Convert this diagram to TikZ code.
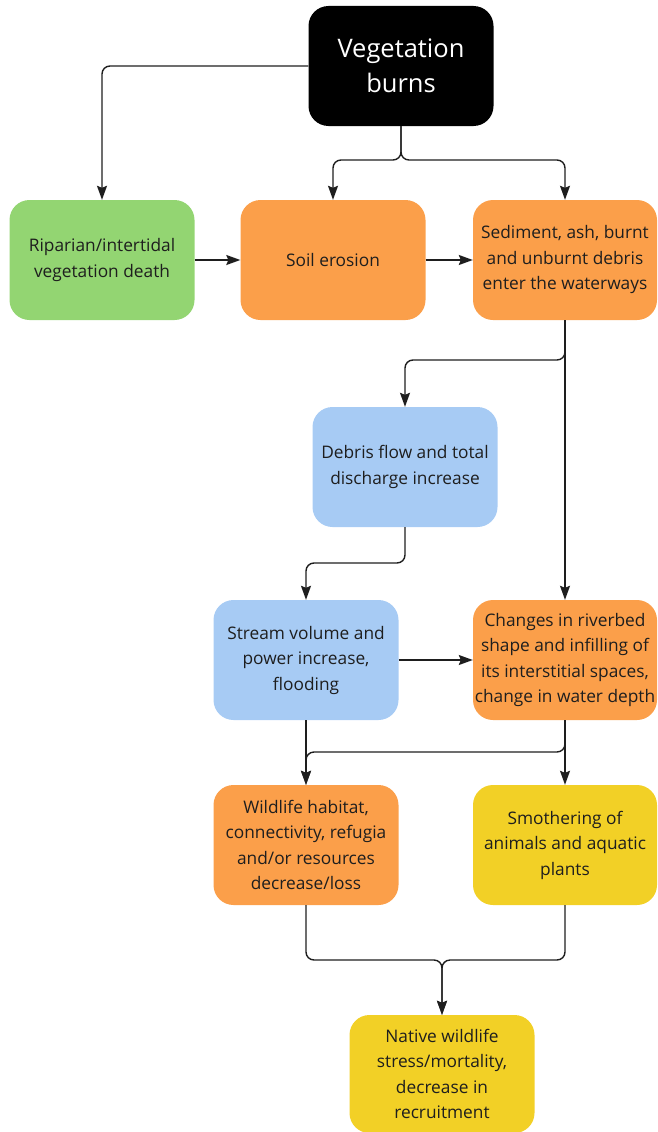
\documentclass[tikz,border=0pt]{standalone}
\usepackage{fontspec}
\setmainfont{Open Sans}
\usetikzlibrary{arrows.meta}
\definecolor{cgreen}{HTML}{93D572}
\definecolor{corange}{HTML}{FB9F4A}
\definecolor{cblue}{HTML}{A7CBF4}
\definecolor{cyellow}{HTML}{F2D026}
\definecolor{ctext}{HTML}{1E1E1E}
\tikzset{
  box/.style={rounded corners=20pt, minimum width=185pt, minimum height=120pt, align=center, font=\fontsize{17.3}{25.5}\selectfont, text=ctext, inner sep=0pt},
  arr/.style={line width=1.4pt, draw=ctext, rounded corners=8pt, -{Stealth[length=14pt,width=10pt,inset=2pt]}}
}
\begin{document}
\begin{tikzpicture}[x=1pt,y=-1pt]
\useasboundingbox (0,0) rectangle (657,1132);
\node[box, fill=black, text=white, font=\fontsize{25.5}{35}\selectfont] (veg) at (401,66) {Vegetation\\burns};
\node[box, fill=cgreen] (rip) at (102,260) {Riparian/intertidal\\vegetation death};
\node[box, fill=corange] (soil) at (333,260) {Soil erosion};
\node[box, fill=corange, minimum width=184pt] (sed) at (565,260) {Sediment, ash, burnt\\and unburnt debris\\enter the waterways};
\node[box, fill=cblue] (deb) at (405,467) {Debris flow and total\\discharge increase};
\node[box, fill=cblue] (str) at (306,660) {Stream volume and\\power increase,\\flooding};
\node[box, fill=corange, minimum width=184pt] (chg) at (565,660) {Changes in riverbed\\shape and infilling of\\its interstitial spaces,\\change in water depth};
\node[box, fill=corange] (wild) at (306,845) {Wildlife habitat,\\connectivity, refugia\\and/or resources\\decrease/loss};
\node[box, fill=cyellow, minimum width=184pt] (smo) at (565,845) {Smothering of\\animals and aquatic\\plants};
\node[box, fill=cyellow, minimum height=118pt] (nat) at (442,1074) {Native wildlife\\stress/mortality,\\decrease in\\recruitment};
\coordinate (j1) at (401,160);
\coordinate (j2) at (565,360);
\coordinate (j3) at (405,563);
\coordinate (j4) at (565,752);
\coordinate (j5l) at (306,960);
\coordinate (j5r) at (565,960);
\draw[arr] (veg.west) -| (rip.north);
\draw[arr] (veg.south) -- (j1) -| (soil.north);
\draw[arr] (veg.south) -- (j1) -| (sed.north);
\draw[arr] (rip.east) -- (soil.west);
\draw[arr] (soil.east) -- (sed.west);
\draw[arr] (sed.south) -- (chg.north);
\draw[arr] (sed.south) -- (j2) -| (deb.north);
\draw[arr] (deb.south) -- (j3) -| (str.north);
\draw[arr] (str.east) -- (chg.west);
\draw[arr] (str.south) -- (wild.north);
\draw[arr] (chg.south) -- (smo.north);
\draw[arr] (chg.south) -- (j4) -| (wild.north);
\draw[arr] (wild.south) -- (j5l) -| (nat.north);
\draw[arr] (smo.south) -- (j5r) -| (nat.north);
\end{tikzpicture}
\end{document}
